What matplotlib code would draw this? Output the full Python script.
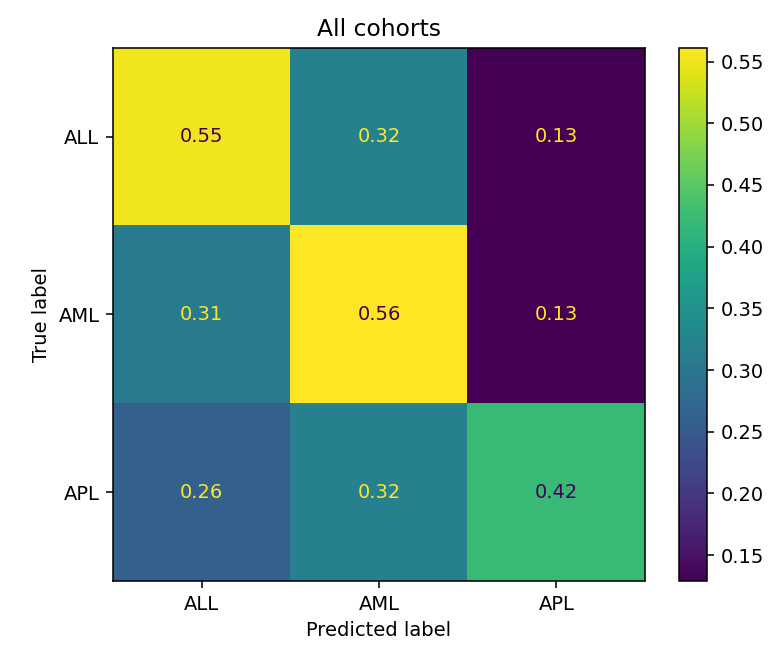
import numpy as np
import matplotlib
matplotlib.use("Agg")
import matplotlib.pyplot as plt

labels = ["ALL", "AML", "APL"]
row_all = [0.552, 0.319, 0.129]
row_aml = [0.309, 0.561, 0.130]
row_apl = [0.261, 0.318, 0.421]

cm = np.array([row_all, row_aml, row_apl])

DPI = 140
fig = plt.figure(figsize=(771/DPI, 648/DPI), dpi=DPI)
ax = fig.add_axes([113/771, 1 - 581/648, (645-113)/771, (581-48)/648])
cmap = plt.get_cmap("viridis")
im = ax.imshow(cm, cmap=cmap, interpolation="nearest", aspect="auto")
cax = fig.add_axes([679/771, 1 - 581/648, (707-679)/771, (581-48)/648])
cb = fig.colorbar(im, cax=cax)

thresh = (cm.max() + cm.min()) / 2.0
for i in range(3):
    for j in range(3):
        color = cmap(1.0) if cm[i, j] < thresh else cmap(0)
        ax.text(j, i, format(cm[i, j], ".2g"), ha="center", va="center", color=color)

ax.set_xticks(range(3))
ax.set_xticklabels(labels)
ax.set_yticks(range(3))
ax.set_yticklabels(labels)
ax.set_xlabel("Predicted label")
ax.set_ylabel("True label")
ax.set_title("All cohorts")

fig.savefig("out.png", dpi=DPI)
